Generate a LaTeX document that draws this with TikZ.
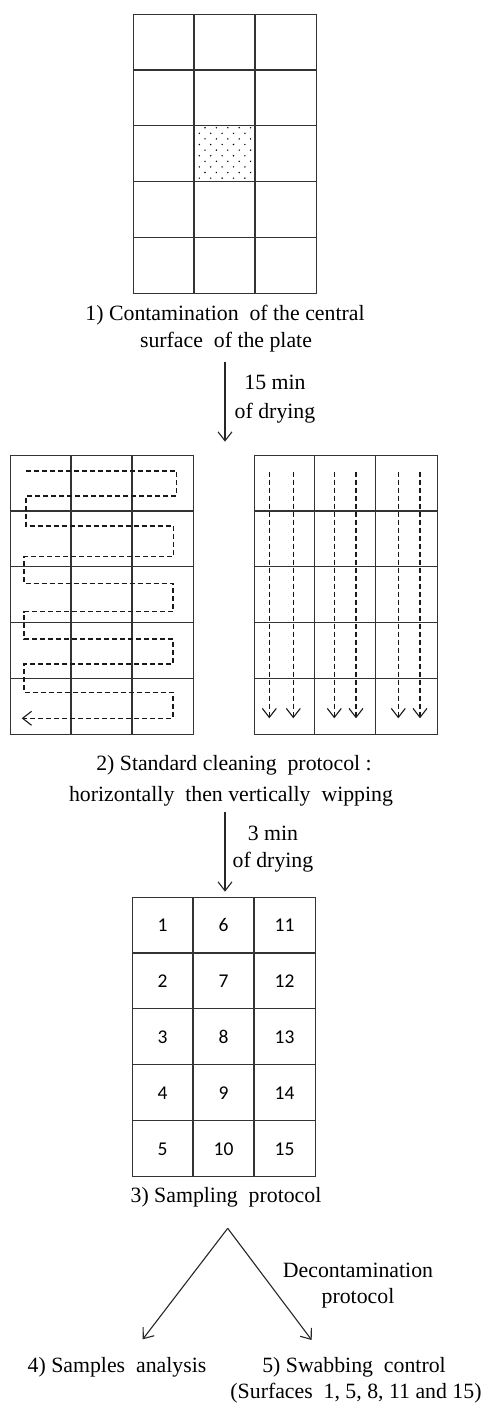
\documentclass[tikz,border=0pt]{standalone}
\usepackage{fontspec}
\setmainfont{Liberation Serif}
\newfontfamily\carlito{Carlito}
\usetikzlibrary{arrows.meta}
\newcommand\dsp{\hspace{0.5em}}
\newcommand\drawplate[3]{%
  \node[gridline, draw, minimum width=183pt, minimum height=279pt, inner sep=0pt, anchor=north west] (#3) at (#1,#2) {};
  \foreach \i in {1,2} \draw[gridline] ({#1+61*\i},#2) -- ++(0,279);
  \foreach \j in {1,...,4} \draw[gridline] (#1,{#2+55.8*\j}) -- ++(183,0);
}
\tikzset{
  gridline/.style={line width=1.4pt, draw=black!80},
  flowarrow/.style={line width=1.1pt, draw=black!85, -{Straight Barb[length=9pt,width=14pt,line width=1.1pt]}},
  wipe/.style={line width=1.1pt, draw=black!90, dash pattern=on 5pt off 3pt, -{Straight Barb[length=9pt,width=14pt,line width=1.1pt]}},
  lbl/.style={inner sep=0pt, anchor=base, font=\fontsize{21.8}{26}\selectfont},
  num/.style={inner sep=0pt, anchor=base, font=\carlito\fontsize{19.5}{22}\selectfont},
}
\begin{document}
\begin{tikzpicture}[x=1pt, y=-1pt]
\useasboundingbox (0,0) rectangle (485,1403);

% ---- 1) contamination plate
\drawplate{133}{14}{plate1}
\foreach \k in {0,2,4,6,8} \foreach \j in {0,...,4}
  \fill ({205+11.4*\j},{127.7+5.6*\k}) circle (0.8);
\foreach \k in {1,3,5,7,9} \foreach \j in {0,...,4}
  \fill ({199.3+11.4*\j},{127.7+5.6*\k}) circle (0.8);
\node[lbl] (c1a) at (225,320) {1) Contamination\dsp of the central};
\node[lbl] (c1b) at (226,347) {surface\dsp of the plate};

% ---- arrow 1
\coordinate (a1s) at (225,361.7);
\coordinate (a1e) at (225,441.7);
\draw[flowarrow] (a1s) -- (a1e);
\node[lbl] (d1a) at (275,389) {15 min};
\node[lbl] (d1b) at (275,418) {of drying};

% ---- 2) cleaning plates
\drawplate{10}{455}{plate2l}
\drawplate{253.5}{455}{plate2r}
\coordinate (w0) at (26,471);
\draw[wipe] (w0) -- (176.7,471) -- (176.7,496) -- (26,496) -- (26,526)
  -- (173.3,526) -- (173.3,556.7) -- (24,556.7) -- (24,583.3)
  -- (173,583.3) -- (173,611.7) -- (24,611.7) -- (24,639)
  -- (173,639) -- (173,664) -- (24,664) -- (24,692.3)
  -- (173,692.3) -- (173,718.3) -- (21.7,718.3);
\foreach \x [count=\n] in {269.3,293.3,334.3,356,398.3,420} {
  \coordinate (vs\n) at (\x,471.7);
  \coordinate (ve\n) at (\x,718.3);
  \draw[wipe] (vs\n) -- (ve\n);
}
\node[lbl] (c2a) at (234,770) {2) Standard cleaning\dsp protocol :};
\node[lbl] (c2b) at (231,801.7) {horizontally\dsp then vertically\dsp wipping};

% ---- arrow 2
\coordinate (a2s) at (225,811.7);
\coordinate (a2e) at (225,891.7);
\draw[flowarrow] (a2s) -- (a2e);
\node[lbl] (d2a) at (273,840) {3 min};
\node[lbl] (d2b) at (273,867.3) {of drying};

% ---- 3) sampling plate
\drawplate{132}{897}{plate3}
\foreach \c in {0,1,2} \foreach \r in {0,...,4} {
  \pgfmathtruncatemacro\nn{5*\c+\r+1}
  \node[num] (n\nn) at ({132+30.5+61*\c},{897+27.9+55.8*\r+7}) {\nn};
}
\node[lbl] (c3) at (226,1202) {3) Sampling\dsp protocol};

% ---- fork
\coordinate (fork) at (227.7,1228.3);
\coordinate (t4) at (142.7,1339.3);
\coordinate (t5) at (311.7,1340);
\draw[flowarrow] (fork) -- (t4);
\draw[flowarrow] (fork) -- (t5);
\node[lbl] (dca) at (358,1277) {Decontamination};
\node[lbl] (dcb) at (358,1303) {protocol};
\node[lbl] (c4) at (117,1372) {4) Samples\dsp analysis};
\node[lbl] (c5a) at (354,1372) {5) Swabbing\dsp control};
\node[lbl] (c5b) at (356,1398) {(Surfaces\dsp 1, 5, 8, 11 and 15)};
\end{tikzpicture}
\end{document}
